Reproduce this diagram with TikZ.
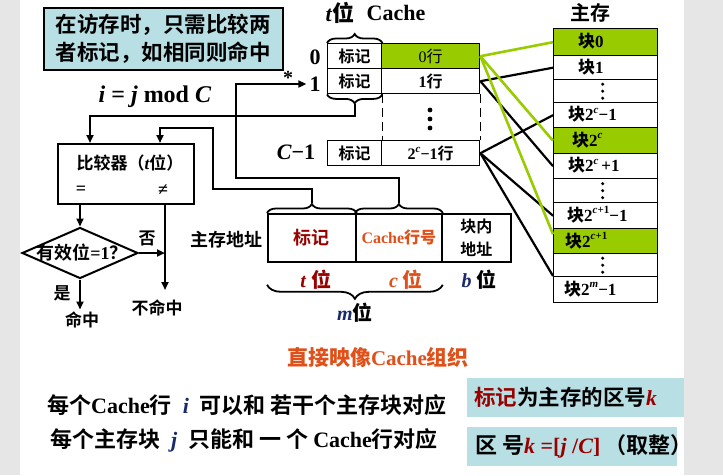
\documentclass[tikz,border=0pt]{standalone}
\usepackage{fontspec}
\setmainfont{Liberation Serif}
\newfontfamily\zh{Noto Sans CJK SC Bold}
\newfontfamily\zhr{Noto Sans CJK SC}
\usetikzlibrary{calc,decorations.pathreplacing,arrows.meta,shapes.geometric}
\definecolor{bgray}{HTML}{E6E6E6}
\definecolor{boxteal}{HTML}{B8E0E4}
\definecolor{lgreen}{HTML}{99CC00}
\definecolor{dred}{HTML}{990000}
\definecolor{ored}{HTML}{E0501A}
\definecolor{dblue}{HTML}{1A2A6C}
\newcommand\fs[1]{\fontsize{#1}{#1}\selectfont}
\newcommand\supr[1]{\raisebox{0.45em}{\fontsize{11}{11}\selectfont #1}}
\begin{document}
\begin{tikzpicture}[x=1pt,y=-1pt,
  cell/.style={draw, line width=1.4pt, inner sep=0pt, anchor=north west},
  lbl/.style={inner sep=0pt},
  arr/.style={line width=2pt, -{Triangle[length=8pt,width=7pt]}},
  link/.style={line width=2.2pt},
  glink/.style={line width=2.6pt, draw=lgreen},
  brc/.style={decorate, decoration={brace, amplitude=9pt}, line width=1.8pt},
  dashv/.style={line width=1.8pt, dash pattern=on 9pt off 5pt}]
\useasboundingbox (0,0) rectangle (723,475);
\fill[bgray] (0,0) rectangle (723,475);
\fill[white] (20,0) rectangle (684,475);

% note box
\node[draw, line width=1.5pt, fill=boxteal, anchor=north west, minimum width=239pt, minimum height=62pt, inner sep=0pt, align=left, font=\zh\fontsize{21.5}{28}\selectfont] (note) at (43,7) {在访存时，只需比较两\\者标记，如相同则命中};

% formula
\node[lbl, font=\fs{24}\bfseries] (modf) at (155,97) {\textit{i} = \textit{j} mod \textit{C}};

% cache header
\node[lbl, font=\fs{22}\bfseries] (tbit) at (340,13) {\textit{t}{\zh 位}};
\node[lbl, font=\fs{22}\bfseries] (cachet) at (396,13) {Cache};

% cache rows
\node[cell, minimum width=54pt, minimum height=25pt, font=\zh\fs{16}] (t0) at (327,43) {标记};
\node[cell, minimum width=98pt, minimum height=25pt, fill=lgreen, font=\fs{16}] (d0) at (381,43) {0{\zhr 行}};
\node[cell, minimum width=54pt, minimum height=25pt, font=\zh\fs{16}] (t1) at (327,68) {标记};
\node[cell, minimum width=98pt, minimum height=25pt, font=\fs{16}] (d1) at (381,68) {\textbf{1}{\zh 行}};
\node[cell, minimum width=54pt, minimum height=25pt, font=\zh\fs{16}] (tC) at (327,140) {标记};
\node[cell, minimum width=98pt, minimum height=25pt, font=\fs{16}] (dC) at (381,140) {\textbf{2}\supr{\bfseries\itshape c}\textbf{−1}{\zh 行}};

% row labels
\node[lbl, font=\fs{22}\bfseries] (r0) at (315,57) {0};
\node[lbl, font=\fs{22}\bfseries] (r1) at (315,84) {1};
\node[lbl, font=\fs{22}\bfseries] (rC) at (296,152) {\textit{C}−1};
\node[lbl, font=\fs{20}\bfseries] (ast) at (288,78) {*};

% braces on cache tag column
\draw[brc] (t0.north west) -- (t0.north east);
\draw[brc] (t1.south east) -- (t1.south west);
\coordinate (tagtip) at ($(t1.south)+(0,10)$);

% dashed gap
\draw[dashv] (t1.south east) -- (tC.north east);
\draw[dashv] (d1.south east) -- (dC.north east);
\foreach \yy in {110,119,128} \fill (430,\yy) circle (2.4pt);

% main memory
\node[lbl, font=\zh\fs{20}] (mt) at (590,13) {主存};
\node[cell, minimum width=104pt, minimum height=27pt, fill=lgreen] (b0) at (553,28) {};
\node[cell, minimum width=104pt, minimum height=24pt] (b1) at (553,55) {};
\node[cell, minimum width=104pt, minimum height=23pt] (bd1) at (553,79) {};
\node[cell, minimum width=104pt, minimum height=25pt] (bc1) at (553,102) {};
\node[cell, minimum width=104pt, minimum height=26pt, fill=lgreen] (bc) at (553,127) {};
\node[cell, minimum width=104pt, minimum height=25pt] (bcp) at (553,153) {};
\node[cell, minimum width=104pt, minimum height=24pt] (bd2) at (553,178) {};
\node[cell, minimum width=104pt, minimum height=26pt] (bcc1) at (553,202) {};
\node[cell, minimum width=104pt, minimum height=25pt, fill=lgreen] (bcc) at (553,228) {};
\node[cell, minimum width=104pt, minimum height=23pt] (bd3) at (553,253) {};
\node[cell, minimum width=104pt, minimum height=26pt] (bm) at (553,276) {};
\foreach \c in {bd1,bd2,bd3} \foreach \dy in {-7,0,7} \fill ($(\c.center)+(-3,\dy)$) circle (1.7pt);

\node[lbl, anchor=west, font=\fs{17}\bfseries] (lb0) at (578,41) {{\zh 块}0};
\node[lbl, anchor=west, font=\fs{17}\bfseries] (lb1) at (578,67) {{\zh 块}1};
\node[lbl, anchor=west, font=\fs{17}\bfseries] (lbc1) at (568,114.5) {{\zh 块}2\supr{\itshape c}−1};
\node[lbl, anchor=west, font=\fs{17}\bfseries] (lbc) at (572,140) {{\zh 块}2\supr{\itshape c}};
\node[lbl, anchor=west, font=\fs{17}\bfseries] (lbcp) at (568,165.5) {{\zh 块}2\supr{\itshape c}\,+1};
\node[lbl, anchor=west, font=\fs{17}\bfseries] (lbcc1) at (567,215) {{\zh 块}2\supr{\itshape c\upshape+1}−1};
\node[lbl, anchor=west, font=\fs{17}\bfseries] (lbcc) at (565,240.5) {{\zh 块}2\supr{\itshape c\upshape+1}};
\node[lbl, anchor=west, font=\fs{17}\bfseries] (lbm) at (564,289) {{\zh 块}2\supr{\itshape m}−1};

% mapping lines
\draw[link] (d1.east) -- (b1.west);
\draw[link] (d1.east) -- (bcp.west);
\draw[link] (dC.east) -- (bc1.west);
\draw[link] (dC.east) -- (bcc1.west);
\draw[link] (dC.east) -- (bm.north west);
\draw[glink] (d0.east) -- (b0.west);
\draw[glink] (d0.east) -- (bc.west);
\draw[glink] (d0.east) -- ($(bcc.west)+(0,-7)$);

% address
\node[lbl, font=\zh\fs{18}] (addrl) at (226,240) {主存地址};
\node[cell, line width=1.8pt, minimum width=88pt, minimum height=48pt, font=\zh\fs{18}, text=dred] (atag) at (267,213) {标记};
\node[cell, line width=1.8pt, minimum width=86pt, minimum height=48pt, font=\fs{16}\bfseries, text=ored] (aline) at (355,213) {Cache{\zh 行号}};
\node[cell, line width=1.8pt, minimum width=69pt, minimum height=48pt, font=\zh\fontsize{16}{23}\selectfont, align=center] (aoff) at (441,213) {块内\\地址};
\draw[brc] (atag.north west) -- (atag.north east);
\draw[brc] (aline.north west) -- (aline.north east);
\coordinate (atip) at ($(atag.north)+(0,-10)$);
\coordinate (ltip) at ($(aline.north)+(0,-10)$);
\draw[brc, decoration={brace, amplitude=14pt}] ($(aline.south east)+(0,22)$) -- ($(atag.south west)+(0,22)$);
\node[lbl, font=\fs{20}\bfseries, text=dred] (tb) at (316,280) {\textit{t} {\zh 位}};
\node[lbl, font=\fs{20}\bfseries, text=ored] (cb) at (406,280) {\textit{c} {\zh 位}};
\node[lbl, font=\fs{20}\bfseries] (bb) at (479,280) {{\color{dblue}\textit{b}} {\zh 位}};
\node[lbl, font=\fs{20}\bfseries] (mb) at (355,313) {{\color{dblue}\textit{m}}{\zh 位}};

% comparator
\node[draw, line width=2pt, anchor=north west, minimum width=136pt, minimum height=60pt, inner sep=0pt] (cmp) at (57,143) {};
\node[lbl, font=\zh\fs{17}] (cmpt) at (130,163) {比较器（{\rmfamily\bfseries\itshape t}位）};
\node[lbl, font=\fs{18}\bfseries] (eq) at (81,190) {=};
\node[lbl, font=\fs{18}\bfseries] (ne) at (163,190) {≠};

% validity diamond
\node[diamond, draw, line width=2pt, minimum width=116pt, minimum height=51pt, inner sep=0pt] (valid) at (80,253) {};
\node[lbl, font=\fs{18}] (validt) at (82,253) {{\zh 有效位}\textbf{=1}{\zh ？}};

% paths into comparator
\draw[arr] (tagtip) |- (90,116) -- ([xshift=33pt]cmp.north west);
\draw[arr] (atip) |- (213,189) |- (160,128) -- ([xshift=103pt]cmp.north west);
\draw[arr, shorten >=3pt] (ltip) |- (236,178) |- (r1.west);

% comparator outputs
\coordinate (neq) at ([xshift=108pt]cmp.south west);
\draw[arr] (cmp.south -| valid.north) -- (valid.north);
\draw[arr] (neq) -- ++(0,85);
\draw[arr] (valid.east) -- (valid.east -| neq);
\draw[arr] (valid.south) -- ++(0,30);
\node[lbl, font=\zh\fs{17}] (no) at (147,238) {否};
\node[lbl, font=\zh\fs{17}] (yes) at (62,293) {是};
\node[lbl, font=\zh\fs{17}] (hit) at (82,320) {命中};
\node[lbl, font=\zh\fs{17}] (miss) at (157,308) {不命中};

% bottom texts
\node[lbl, font=\fs{21}\bfseries, text=ored] (title) at (378,357) {{\zh 直接映像}Cache{\zh 组织}};
\node[lbl, anchor=west, font=\fs{22}] (line1) at (47,405) {{\zh 每个}\textbf{Cache}{\zh 行}\enspace{\color{dblue}\bfseries\itshape i}\enspace{\zh 可以和 若干个主存块对应}};
\node[lbl, anchor=west, font=\fs{22}] (line2) at (50,440) {{\zh 每个主存块}\enspace{\color{dblue}\bfseries\itshape j}\enspace{\zh 只能和 一 个 }\textbf{Cache}{\zh 行对应}};

\node[fill=boxteal, anchor=north west, minimum width=217pt, minimum height=39pt, inner sep=0pt] (k1) at (467,378) {};
\node[lbl, anchor=west, font=\fs{21.5}] (k1t) at ([xshift=7pt]k1.west) {{\zh\color{dred}标记}{\zh 为主存的区号}{\color{dred}\bfseries\itshape k}};
\node[fill=boxteal, anchor=north west, minimum width=210pt, minimum height=39pt, inner sep=0pt] (k2) at (467,427) {};
\node[lbl, anchor=west, font=\fs{22}] (k2t) at ([xshift=8pt]k2.west) {{\zh 区 号}{\color{dred}\bfseries\textit{k} =[\textit{j} /\textit{C}]}\,{\zh （取整）}};

\fill[bgray] (684,0) rectangle (723,475);
\fill[bgray] (0,0) rectangle (20,475);
\end{tikzpicture}
\end{document}
